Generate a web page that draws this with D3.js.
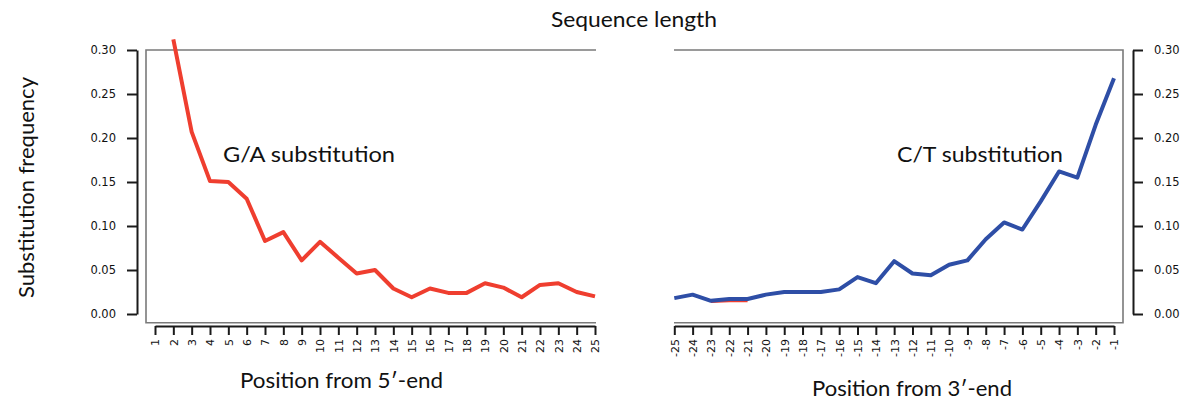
<!DOCTYPE html>
<html>
<head>
<meta charset="utf-8">
<script src="https://cdn.jsdelivr.net/npm/d3@7"></script>
<style>
  html, body { margin: 0; padding: 0; background: #fff; }
  svg { display: block; }
</style>
</head>
<body>
<svg id="chart" width="1200" height="411"></svg>
<script>
// ---- Data ----
const positions5 = d3.range(1, 26);            // 1..25
const positions3 = d3.range(-25, 0);           // -25..-1
const yTicks = [0, 0.05, 0.10, 0.15, 0.20, 0.25, 0.30];

// G/A substitution frequency from 5'-end (position 1 off-scale)
const gaPos5 = [2, 3, 4, 5, 6, 7, 8, 9, 10, 11, 12, 13, 14, 15, 16, 17, 18, 19, 20, 21, 22, 23, 24, 25];
const gaFreq5 = [0.312, 0.207, 0.151, 0.150, 0.131, 0.083, 0.093, 0.061, 0.082, 0.064, 0.046, 0.050,
                 0.029, 0.019, 0.029, 0.024, 0.024, 0.035, 0.030, 0.019, 0.033, 0.035, 0.025, 0.020];

// C/T substitution frequency from 3'-end
const ctFreq3 = [0.018, 0.022, 0.015, 0.017, 0.017, 0.022, 0.025, 0.025, 0.025, 0.028, 0.042, 0.035,
                 0.060, 0.046, 0.044, 0.056, 0.061, 0.085, 0.104, 0.096, 0.128, 0.162, 0.155, 0.215, 0.268];

// G/A from 3'-end (visible only where it peeks out under the blue line)
const gaPos3 = [-23, -22, -21];
const gaFreq3 = [0.0145, 0.0152, 0.0152];

const labels = {
  top: "Sequence length",
  yTitle: "Substitution frequency",
  x5: "Position from 5\u2032-end",
  x3: "Position from 3\u2032-end",
  ga: "G/A substitution",
  ct: "C/T substitution"
};

// ---- Drawing ----
const svg = d3.select("#chart");
const red = "#ef3e2f", blue = "#2e4ea6";
const titleFont = "Lato, 'Open Sans', sans-serif";
const tickFont = "'DejaVu Sans', Verdana, sans-serif";

const y = d3.scaleLinear().domain([0, 0.30]).range([314, 50]);
const x5 = d3.scaleLinear().domain([1, 25]).range([155, 595]);
const x3 = d3.scaleLinear().domain([-25, -1]).range([674.3, 1114]);

// panel boxes
const boxStroke = "#7a7a7a";
svg.append("path")
  .attr("d", `M596,50 H146 V322.7 H596`)
  .attr("fill", "none").attr("stroke", boxStroke).attr("stroke-width", 1.6);
svg.append("path")
  .attr("d", `M674,50 H1123 V322.7 H674`)
  .attr("fill", "none").attr("stroke", boxStroke).attr("stroke-width", 1.6);

function styleAxis(g) {
  g.selectAll("path.domain").attr("stroke", "#1a1a1a").attr("stroke-width", 2);
  g.selectAll(".tick line").attr("stroke", "#1a1a1a").attr("stroke-width", 2);
  g.selectAll(".tick text").attr("fill", "#111").style("font-family", tickFont);
}

// left y axis
const yLeft = svg.append("g").attr("transform", "translate(137,0)")
  .call(d3.axisLeft(y).tickValues(yTicks).tickFormat(d3.format(".2f")).tickSize(10).tickSizeOuter(0).tickPadding(11));
styleAxis(yLeft);
yLeft.selectAll(".tick text").style("font-size", "11.5px");

// right y axis
const yRight = svg.append("g").attr("transform", "translate(1133,0)")
  .call(d3.axisRight(y).tickValues(yTicks).tickFormat(d3.format(".2f")).tickSize(10).tickSizeOuter(0).tickPadding(11));
styleAxis(yRight);
yRight.selectAll(".tick text").style("font-size", "11.5px");

// bottom axes
function bottomAxis(scale, vals) {
  const g = svg.append("g").attr("transform", "translate(0,326)")
    .call(d3.axisBottom(scale).tickValues(vals).tickFormat(d => String(d)).tickSize(9).tickSizeOuter(0));
  styleAxis(g);
  g.selectAll(".tick text")
    .attr("transform", "rotate(-90)")
    .attr("x", -13).attr("y", 0).attr("dy", "0.35em")
    .style("text-anchor", "end")
    .style("font-size", "11px");
  return g;
}
bottomAxis(x5, positions5);
bottomAxis(x3, positions3);

// lines
const line5 = d3.line().x((d, i) => x5(gaPos5[i])).y(d => y(d));
svg.append("path").datum(gaFreq5)
  .attr("d", line5).attr("fill", "none").attr("stroke", red)
  .attr("stroke-width", 4).attr("stroke-linejoin", "round").attr("stroke-linecap", "butt");

const line3ga = d3.line().x((d, i) => x3(gaPos3[i])).y(d => y(d));
svg.append("path").datum(gaFreq3)
  .attr("d", line3ga).attr("fill", "none").attr("stroke", red)
  .attr("stroke-width", 3.5).attr("stroke-linejoin", "round");

const line3 = d3.line().x((d, i) => x3(positions3[i])).y(d => y(d));
svg.append("path").datum(ctFreq3)
  .attr("d", line3).attr("fill", "none").attr("stroke", blue)
  .attr("stroke-width", 4).attr("stroke-linejoin", "round");

// texts
function txt(str, x, yy, size, len, opts = {}) {
  const t = svg.append("text")
    .attr("x", x).attr("y", yy)
    .style("font-family", titleFont)
    .style("font-size", size + "px")
    .attr("fill", "#111")
    .text(str);
  if (len) t.attr("textLength", len).attr("lengthAdjust", "spacingAndGlyphs");
  if (opts.transform) t.attr("transform", opts.transform);
  return t;
}
txt(labels.top, 551, 27, 21, 166);
txt(labels.ga, 223, 162, 21, 172);
txt(labels.ct, 897, 162, 21, 166);
txt(labels.x5, 240, 388, 21, 203);
txt(labels.x3, 812, 396, 21, 200);
txt(labels.yTitle, 0, 0, 21, 221, { transform: "translate(33.5,298) rotate(-90)" });
</script>
</body>
</html>
